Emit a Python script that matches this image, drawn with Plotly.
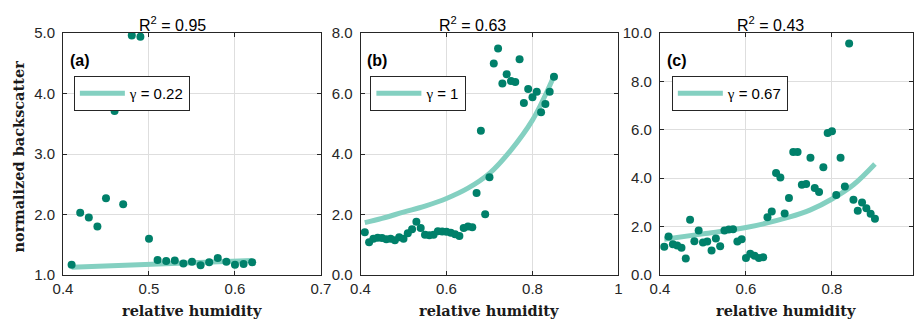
import plotly.graph_objects as go

# ---------------- data ----------------
rh_a = [0.41, 0.42, 0.43, 0.44, 0.45, 0.46, 0.47, 0.48, 0.49, 0.50, 0.51, 0.52,
        0.53, 0.54, 0.55, 0.56, 0.57, 0.58, 0.59, 0.60, 0.61, 0.62]
bs_a = [1.17, 2.03, 1.95, 1.80, 2.27, 3.71, 2.17, 4.96, 4.94, 1.60, 1.25, 1.23,
        1.24, 1.19, 1.22, 1.16, 1.21, 1.28, 1.22, 1.17, 1.18, 1.21]
fit_rh_a = [0.41, 0.62]
fit_a = [1.13, 1.24]

rh_b = [0.41, 0.42, 0.43, 0.44, 0.45, 0.46, 0.47, 0.48, 0.49, 0.50, 0.51, 0.52,
        0.53, 0.54, 0.55, 0.56, 0.57, 0.58, 0.59, 0.60, 0.61, 0.62, 0.63, 0.64,
        0.65, 0.66, 0.67, 0.68, 0.69, 0.70, 0.71, 0.72, 0.73, 0.74, 0.75, 0.76,
        0.77, 0.78, 0.79, 0.80, 0.81, 0.82, 0.83, 0.84, 0.85]
bs_b = [1.41, 1.08, 1.20, 1.23, 1.22, 1.18, 1.20, 1.15, 1.25, 1.20, 1.38, 1.51,
        1.76, 1.55, 1.33, 1.31, 1.33, 1.45, 1.44, 1.43, 1.40, 1.35, 1.29, 1.55,
        1.60, 1.58, 2.71, 4.77, 2.01, 3.23, 6.99, 7.49, 6.33, 6.64, 6.41, 6.38,
        7.13, 5.69, 6.15, 5.88, 6.06, 5.38, 5.65, 6.06, 6.55]
fit_rh_b = [0.41, 0.45, 0.50, 0.55, 0.60, 0.65, 0.70, 0.75, 0.80, 0.83, 0.85]
fit_b = [1.73, 1.87, 2.08, 2.28, 2.53, 2.87, 3.36, 4.13, 5.12, 5.95, 6.58]

rh_c = [0.41, 0.42, 0.43, 0.44, 0.45, 0.46, 0.47, 0.48, 0.49, 0.50, 0.51, 0.52,
        0.53, 0.54, 0.55, 0.56, 0.57, 0.58, 0.59, 0.60, 0.61, 0.62, 0.63, 0.64,
        0.65, 0.66, 0.67, 0.68, 0.69, 0.70, 0.71, 0.72, 0.73, 0.74, 0.75, 0.76,
        0.77, 0.78, 0.79, 0.80, 0.81, 0.82, 0.83, 0.84, 0.85, 0.86, 0.87, 0.88,
        0.89, 0.90]
bs_c = [1.17, 1.59, 1.27, 1.22, 1.13, 0.68, 2.28, 1.39, 1.84, 1.34, 1.38, 1.01,
        1.51, 1.19, 1.84, 1.88, 1.89, 1.38, 1.48, 0.70, 0.88, 0.80, 0.70, 0.73,
        2.39, 2.62, 4.21, 4.03, 2.54, 3.18, 5.08, 5.08, 3.73, 3.76, 4.85, 3.59,
        3.43, 4.45, 5.87, 5.94, 3.31, 4.85, 3.66, 9.57, 3.11, 2.65, 3.00, 2.76,
        2.53, 2.32]
fit_rh_c = [0.41, 0.50, 0.60, 0.70, 0.75, 0.80, 0.85, 0.90]
fit_c = [1.48, 1.70, 1.96, 2.39, 2.69, 3.14, 3.73, 4.59]

panel_labels = ["(a)", "(b)", "(c)"]
r2_labels = ["0.95", "0.63", "0.43"]
gamma_labels = ["0.22", "1", "0.67"]

xtick_a = [0.4, 0.5, 0.6, 0.7]
xtext_a = ["0.4", "0.5", "0.6", "0.7"]
xtick_b = [0.4, 0.6, 0.8, 1.0]
xtext_b = ["0.4", "0.6", "0.8", "1"]
xtick_c = [0.4, 0.6, 0.8, 1.0]
xtext_c = ["0.4", "0.6", "0.8", "1"]
ytick_a = [1, 2, 3, 4, 5]
ytext_a = ["1.0", "2.0", "3.0", "4.0", "5.0"]
ytick_b = [0, 2, 4, 6, 8]
ytext_b = ["0.0", "2.0", "4.0", "6.0", "8.0"]
ytick_c = [0, 2, 4, 6, 8, 10]
ytext_c = ["0.0", "2.0", "4.0", "6.0", "8.0", "10.0"]

# ---------------- style ----------------
DOT = "#00806A"
FIT = "#84D0C1"
AX = "#262626"
GRID = "#DEDEDE"
SANS = "Liberation Sans, Arial, sans-serif"
SERIF = "DejaVu Serif, serif"

fig = go.Figure()

panels = [
    (rh_a, bs_a, fit_rh_a, fit_a, "x", "y", "legend"),
    (rh_b, bs_b, fit_rh_b, fit_b, "x2", "y2", "legend2"),
    (rh_c, bs_c, fit_rh_c, fit_c, "x3", "y3", "legend3"),
]
for i, (rx, ry, fx, fy, xa, ya, lg) in enumerate(panels):
    fig.add_trace(go.Scatter(
        x=fx, y=fy, mode="lines", xaxis=xa, yaxis=ya,
        line=dict(color=FIT, width=5, shape="spline"),
        name="<span style='font-family:Liberation Serif'>γ</span> = " + gamma_labels[i],
        legend=lg, showlegend=True))
    fig.add_trace(go.Scatter(
        x=rx, y=ry, mode="markers", xaxis=xa, yaxis=ya,
        marker=dict(color=DOT, size=8, line=dict(width=0)),
        showlegend=False))

W, H = 923, 320
L, R, T, B = 63, 0, 33, 45
PW = W - L - R
PH = H - T - B

def px_x(p):
    return (p - L) / PW

def px_y(p):
    return (H - B - p) / PH

domains = [
    [px_x(63), px_x(324)],
    [px_x(364), px_x(625)],
    [px_x(667), 1.0],
]
xranges = [[0.4, 0.7], [0.4, 1.0], [0.4, 0.4 + (923 - 667) / 435.0]]
yranges = [[1, 5], [0, 8], [0, 10]]
xt = [(xtick_a, xtext_a), (xtick_b, xtext_b), (xtick_c, xtext_c)]
yt = [(ytick_a, ytext_a), (ytick_b, ytext_b), (ytick_c, ytext_c)]

common = dict(
    showline=True, linecolor=AX, linewidth=1, mirror="ticks",
    ticks="inside", ticklen=4, tickcolor=AX, tickwidth=1,
    showgrid=True, gridcolor=GRID, gridwidth=1, zeroline=False,
    tickfont=dict(family=SANS, size=15, color=AX),
)
layout = {}
for i in range(3):
    sx = "" if i == 0 else str(i + 1)
    layout["xaxis" + sx] = dict(
        common, domain=domains[i], range=xranges[i], anchor="y" + sx,
        tickvals=xt[i][0], ticktext=xt[i][1])
    layout["yaxis" + sx] = dict(
        common, domain=[0, 1], range=yranges[i], anchor="x" + sx,
        tickvals=yt[i][0], ticktext=yt[i][1], ticklabelstandoff=4)

legend_x = [74, 374, 679]
for i in range(3):
    key = "legend" if i == 0 else "legend" + str(i + 1)
    layout[key] = dict(
        x=px_x(legend_x[i]), y=px_y(76), xanchor="left", yanchor="top",
        xref="paper", yref="paper",
        bgcolor="white", bordercolor=AX, borderwidth=1,
        font=dict(family=SANS, size=15, color="#000000"),
        itemwidth=45, tracegroupgap=0)

annotations = []
title_x = [174, 477, 779]
for i in range(3):
    sx = "" if i == 0 else str(i + 1)
    annotations.append(dict(
        text="R<sup>2</sup> = " + r2_labels[i], x=px_x(title_x[i]), y=px_y(24),
        xref="paper", yref="paper", showarrow=False, xanchor="center", yanchor="middle",
        font=dict(family=SANS, size=16, color="#000000")))
    annotations.append(dict(
        text="<b>" + panel_labels[i] + "</b>", x=5.0 / 261, y=px_y(61),
        xref="x" + sx + " domain", yref="paper", showarrow=False,
        xanchor="left", yanchor="middle",
        font=dict(family=SANS, size=16, color="#000000")))
    annotations.append(dict(
        text="<b>relative humidity</b>", x=0.5 if i < 2 else (794 - 667) / 256.0,
        y=px_y(310), xref="x" + sx + " domain", yref="paper", showarrow=False,
        xanchor="center", yanchor="middle",
        font=dict(family=SERIF, size=14.5, color="#1a1a1a")))
annotations.append(dict(
    text="<b>normalized backscatter</b>", x=px_x(17), y=px_y(157), textangle=-90,
    xref="paper", yref="paper", showarrow=False, xanchor="center", yanchor="middle",
    font=dict(family=SERIF, size=14.5, color="#1a1a1a")))

fig.update_layout(
    width=W, height=H, margin=dict(l=L, r=R, t=T, b=B),
    paper_bgcolor="white", plot_bgcolor="white",
    annotations=annotations, **layout)

fig.write_html("out.html")
